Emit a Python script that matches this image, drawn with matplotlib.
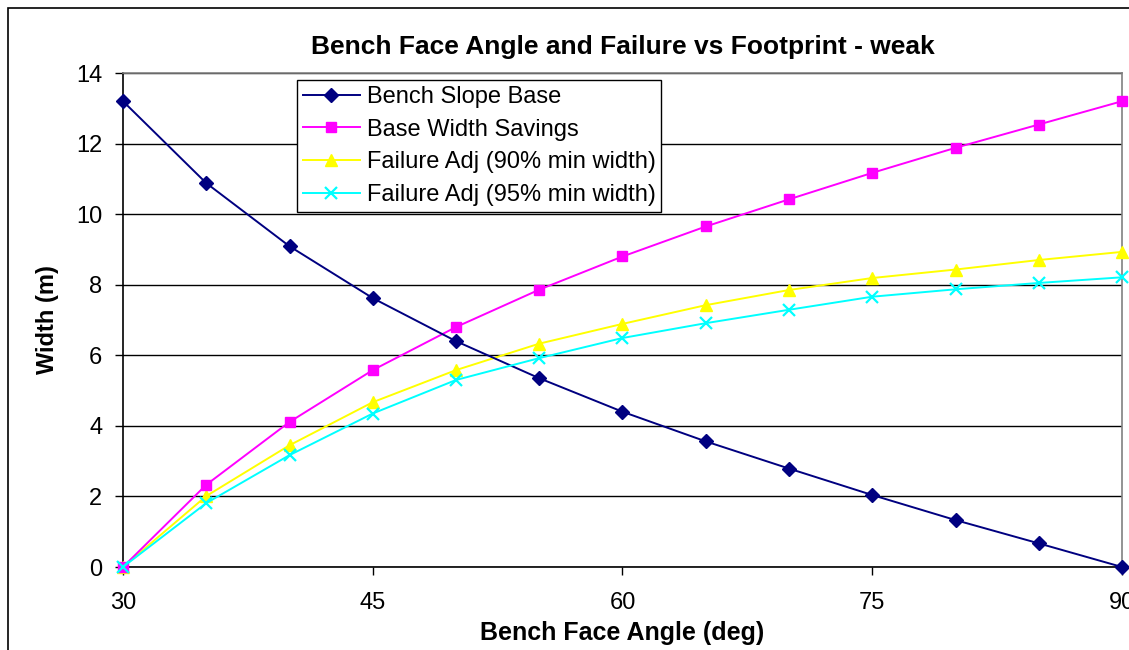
import matplotlib.pyplot as plt
from matplotlib.patches import Rectangle

# Data
angles = [30, 35, 40, 45, 50, 55, 60, 65, 70, 75, 80, 85, 90]
bench_slope_base = [13.2, 10.88, 9.09, 7.62, 6.40, 5.35, 4.40, 3.56, 2.79, 2.04, 1.33, 0.67, 0.0]
base_width_savings = [0.0, 2.33, 4.11, 5.58, 6.80, 7.86, 8.80, 9.65, 10.42, 11.17, 11.88, 12.54, 13.2]
failure_adj_90 = [0.0, 2.01, 3.45, 4.67, 5.58, 6.33, 6.89, 7.42, 7.85, 8.19, 8.43, 8.70, 8.93]
failure_adj_95 = [0.0, 1.81, 3.17, 4.35, 5.30, 5.92, 6.49, 6.91, 7.29, 7.66, 7.87, 8.05, 8.21]

x_ticks = [30, 45, 60, 75, 90]
y_ticks = [0, 2, 4, 6, 8, 10, 12, 14]

plt.rcParams['font.family'] = ['Liberation Sans', 'DejaVu Sans']

fig = plt.figure(figsize=(11.29, 6.5), dpi=100)
fig.patch.set_facecolor('white')

# outer chart border (cropped on right and bottom in the reference)
fig.patches.append(Rectangle((8 / 1129, -0.1), 1.2, 1.1 - 8 / 650,
                             transform=fig.transFigure, fill=False,
                             edgecolor='black', linewidth=1.2))

ax = fig.add_axes([123 / 1129, 83 / 650, 999 / 1129, 494 / 650])

ax.plot(angles, bench_slope_base, color='#000080', marker='D', markersize=7,
        linewidth=1.4, label='Bench Slope Base', clip_on=False, zorder=5)
ax.plot(angles, base_width_savings, color='#FF00FF', marker='s', markersize=7,
        linewidth=1.4, label='Base Width Savings', clip_on=False, zorder=4)
ax.plot(angles, failure_adj_90, color='#FFFF00', marker='^', markersize=9,
        linewidth=1.4, label='Failure Adj (90% min width)', clip_on=False, zorder=3)
ax.plot(angles, failure_adj_95, color='#00FFFF', marker='x', markersize=9,
        markeredgewidth=1.6, linewidth=1.4, label='Failure Adj (95% min width)',
        clip_on=False, zorder=6)

ax.set_xlim(30, 90)
ax.set_ylim(0, 14)
ax.set_xticks(x_ticks)
ax.set_yticks(y_ticks)
ax.tick_params(axis='both', direction='out', length=6, width=1, labelsize=17,
               color='black')
ax.tick_params(axis='x', pad=12)
ax.tick_params(axis='y', pad=9)

ax.yaxis.grid(True, color='black', linewidth=1)
ax.set_axisbelow(True)
for side in ['top', 'right']:
    ax.spines[side].set_color('#808080')
    ax.spines[side].set_linewidth(1.2)
for side in ['left', 'bottom']:
    ax.spines[side].set_color('black')
    ax.spines[side].set_linewidth(1.2)

ax.set_title('Bench Face Angle and Failure vs Footprint - weak', fontsize=19,
             fontweight='bold', pad=14)
ax.set_xlabel('Bench Face Angle (deg)', fontsize=18, fontweight='bold', labelpad=5)
ax.set_ylabel('Width (m)', fontsize=17, fontweight='bold', labelpad=12)

leg = ax.legend(loc='upper left', bbox_to_anchor=((297 - 123) / 999, (567 - 80) / 494),
                fontsize=17, frameon=True, fancybox=False, edgecolor='black',
                framealpha=1, borderpad=0.25, labelspacing=0.45, handlelength=2.4,
                handletextpad=0.3, borderaxespad=0)
leg.get_frame().set_linewidth(1)
leg.set_zorder(10)

fig.savefig('out.png', dpi=100)
